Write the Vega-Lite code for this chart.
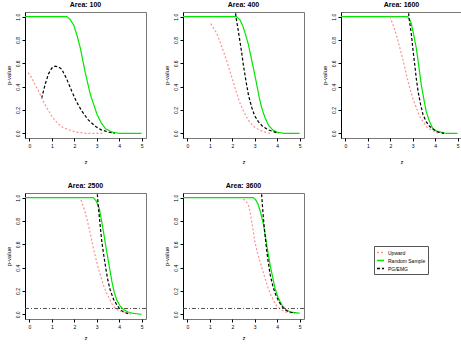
{
  "$schema": "https://vega.github.io/schema/vega-lite/v6.json",
  "background": "white",
  "padding": {"left": 4, "top": 0, "right": 0, "bottom": 0},
  "config": {
    "font": "Liberation Sans",
    "view": {"stroke": "#777777", "strokeWidth": 1},
    "title": {"fontSize": 7, "fontWeight": "bold", "offset": 4, "color": "black"},
    "axis": {"grid": false, "labelFontSize": 5, "titleFontSize": 6, "titleFontWeight": "normal", "tickSize": 3, "domainColor": "black", "tickColor": "black", "labelColor": "black", "titleColor": "black", "labelPadding": 2, "labelOverlap": false},
    "axisX": {"domain": false},
    "legend": {"labelFontSize": 5, "symbolSize": 50, "strokeColor": "#555555", "padding": 2, "rowPadding": 0, "symbolStrokeWidth": 1.5, "fillColor": "white", "labelOffset": 3},
    "concat": {"spacing": 37}
  },
  "data": {"values": [
    {"p":1,"s":"Random Sample","x":-0.2,"y":1},{"p":1,"s":"Random Sample","x":1.67,"y":1},{"p":1,"s":"Random Sample","x":1.8,"y":0.98},{"p":1,"s":"Random Sample","x":1.97,"y":0.93},{"p":1,"s":"Random Sample","x":2.12,"y":0.84},{"p":1,"s":"Random Sample","x":2.27,"y":0.73},{"p":1,"s":"Random Sample","x":2.49,"y":0.52},{"p":1,"s":"Random Sample","x":2.72,"y":0.33},{"p":1,"s":"Random Sample","x":3.02,"y":0.16},{"p":1,"s":"Random Sample","x":3.2,"y":0.09},{"p":1,"s":"Random Sample","x":3.39,"y":0.04},{"p":1,"s":"Random Sample","x":3.69,"y":0.01},{"p":1,"s":"Random Sample","x":4.0,"y":0},{"p":1,"s":"Random Sample","x":5.0,"y":0},
    {"p":1,"s":"PG/EMG","x":0.54,"y":0.30},{"p":1,"s":"PG/EMG","x":0.7,"y":0.42},{"p":1,"s":"PG/EMG","x":0.85,"y":0.51},{"p":1,"s":"PG/EMG","x":1.0,"y":0.56},{"p":1,"s":"PG/EMG","x":1.14,"y":0.575},{"p":1,"s":"PG/EMG","x":1.3,"y":0.57},{"p":1,"s":"PG/EMG","x":1.44,"y":0.55},{"p":1,"s":"PG/EMG","x":1.65,"y":0.47},{"p":1,"s":"PG/EMG","x":1.89,"y":0.36},{"p":1,"s":"PG/EMG","x":2.1,"y":0.27},{"p":1,"s":"PG/EMG","x":2.34,"y":0.19},{"p":1,"s":"PG/EMG","x":2.6,"y":0.12},{"p":1,"s":"PG/EMG","x":2.94,"y":0.06},{"p":1,"s":"PG/EMG","x":3.2,"y":0.03},{"p":1,"s":"PG/EMG","x":3.54,"y":0.01},{"p":1,"s":"PG/EMG","x":3.8,"y":0},
    {"p":1,"s":"Upward","x":-0.06,"y":0.52},{"p":1,"s":"Upward","x":0.09,"y":0.48},{"p":1,"s":"Upward","x":0.24,"y":0.42},{"p":1,"s":"Upward","x":0.39,"y":0.37},{"p":1,"s":"Upward","x":0.6,"y":0.28},{"p":1,"s":"Upward","x":0.8,"y":0.21},{"p":1,"s":"Upward","x":0.99,"y":0.15},{"p":1,"s":"Upward","x":1.14,"y":0.11},{"p":1,"s":"Upward","x":1.4,"y":0.06},{"p":1,"s":"Upward","x":1.74,"y":0.03},{"p":1,"s":"Upward","x":2.1,"y":0.01},{"p":1,"s":"Upward","x":2.5,"y":0},{"p":1,"s":"Upward","x":3.3,"y":0},

    {"p":2,"s":"Random Sample","x":-0.2,"y":1},{"p":2,"s":"Random Sample","x":2.19,"y":1},{"p":2,"s":"Random Sample","x":2.35,"y":0.97},{"p":2,"s":"Random Sample","x":2.49,"y":0.91},{"p":2,"s":"Random Sample","x":2.6,"y":0.84},{"p":2,"s":"Random Sample","x":2.72,"y":0.76},{"p":2,"s":"Random Sample","x":2.83,"y":0.66},{"p":2,"s":"Random Sample","x":2.94,"y":0.56},{"p":2,"s":"Random Sample","x":3.09,"y":0.42},{"p":2,"s":"Random Sample","x":3.2,"y":0.31},{"p":2,"s":"Random Sample","x":3.31,"y":0.22},{"p":2,"s":"Random Sample","x":3.45,"y":0.14},{"p":2,"s":"Random Sample","x":3.61,"y":0.07},{"p":2,"s":"Random Sample","x":3.8,"y":0.03},{"p":2,"s":"Random Sample","x":3.99,"y":0.01},{"p":2,"s":"Random Sample","x":4.3,"y":0},{"p":2,"s":"Random Sample","x":5.0,"y":0},
    {"p":2,"s":"PG/EMG","x":2.15,"y":1.03},{"p":2,"s":"PG/EMG","x":2.16,"y":1.0},{"p":2,"s":"PG/EMG","x":2.25,"y":0.9},{"p":2,"s":"PG/EMG","x":2.34,"y":0.79},{"p":2,"s":"PG/EMG","x":2.42,"y":0.69},{"p":2,"s":"PG/EMG","x":2.49,"y":0.59},{"p":2,"s":"PG/EMG","x":2.6,"y":0.46},{"p":2,"s":"PG/EMG","x":2.72,"y":0.33},{"p":2,"s":"PG/EMG","x":2.87,"y":0.22},{"p":2,"s":"PG/EMG","x":3.0,"y":0.15},{"p":2,"s":"PG/EMG","x":3.16,"y":0.10},{"p":2,"s":"PG/EMG","x":3.35,"y":0.06},{"p":2,"s":"PG/EMG","x":3.61,"y":0.03},{"p":2,"s":"PG/EMG","x":4.06,"y":0},
    {"p":2,"s":"Upward","x":1.04,"y":0.94},{"p":2,"s":"Upward","x":1.17,"y":0.90},{"p":2,"s":"Upward","x":1.30,"y":0.86},{"p":2,"s":"Upward","x":1.42,"y":0.80},{"p":2,"s":"Upward","x":1.52,"y":0.75},{"p":2,"s":"Upward","x":1.70,"y":0.65},{"p":2,"s":"Upward","x":1.90,"y":0.53},{"p":2,"s":"Upward","x":2.12,"y":0.39},{"p":2,"s":"Upward","x":2.34,"y":0.26},{"p":2,"s":"Upward","x":2.5,"y":0.19},{"p":2,"s":"Upward","x":2.64,"y":0.14},{"p":2,"s":"Upward","x":2.8,"y":0.09},{"p":2,"s":"Upward","x":3.01,"y":0.05},{"p":2,"s":"Upward","x":3.2,"y":0.03},{"p":2,"s":"Upward","x":3.46,"y":0.01},{"p":2,"s":"Upward","x":3.7,"y":0},

    {"p":3,"s":"Random Sample","x":-0.2,"y":1},{"p":3,"s":"Random Sample","x":2.76,"y":1},{"p":3,"s":"Random Sample","x":2.85,"y":0.98},{"p":3,"s":"Random Sample","x":2.94,"y":0.94},{"p":3,"s":"Random Sample","x":3.05,"y":0.84},{"p":3,"s":"Random Sample","x":3.16,"y":0.73},{"p":3,"s":"Random Sample","x":3.27,"y":0.58},{"p":3,"s":"Random Sample","x":3.38,"y":0.42},{"p":3,"s":"Random Sample","x":3.49,"y":0.30},{"p":3,"s":"Random Sample","x":3.6,"y":0.19},{"p":3,"s":"Random Sample","x":3.75,"y":0.10},{"p":3,"s":"Random Sample","x":3.9,"y":0.04},{"p":3,"s":"Random Sample","x":4.05,"y":0.02},{"p":3,"s":"Random Sample","x":4.26,"y":0.01},{"p":3,"s":"Random Sample","x":4.5,"y":0},{"p":3,"s":"Random Sample","x":5.0,"y":0},
    {"p":3,"s":"PG/EMG","x":2.82,"y":1.03},{"p":3,"s":"PG/EMG","x":2.83,"y":1.0},{"p":3,"s":"PG/EMG","x":2.88,"y":0.93},{"p":3,"s":"PG/EMG","x":2.94,"y":0.85},{"p":3,"s":"PG/EMG","x":3.01,"y":0.72},{"p":3,"s":"PG/EMG","x":3.09,"y":0.59},{"p":3,"s":"PG/EMG","x":3.16,"y":0.47},{"p":3,"s":"PG/EMG","x":3.24,"y":0.36},{"p":3,"s":"PG/EMG","x":3.35,"y":0.25},{"p":3,"s":"PG/EMG","x":3.46,"y":0.16},{"p":3,"s":"PG/EMG","x":3.6,"y":0.10},{"p":3,"s":"PG/EMG","x":3.75,"y":0.06},{"p":3,"s":"PG/EMG","x":3.95,"y":0.03},{"p":3,"s":"PG/EMG","x":4.12,"y":0.01},{"p":3,"s":"PG/EMG","x":4.4,"y":0},
    {"p":3,"s":"Upward","x":1.99,"y":1.0},{"p":3,"s":"Upward","x":2.1,"y":0.94},{"p":3,"s":"Upward","x":2.21,"y":0.88},{"p":3,"s":"Upward","x":2.32,"y":0.81},{"p":3,"s":"Upward","x":2.43,"y":0.73},{"p":3,"s":"Upward","x":2.54,"y":0.65},{"p":3,"s":"Upward","x":2.65,"y":0.56},{"p":3,"s":"Upward","x":2.76,"y":0.47},{"p":3,"s":"Upward","x":2.87,"y":0.39},{"p":3,"s":"Upward","x":3.0,"y":0.30},{"p":3,"s":"Upward","x":3.16,"y":0.22},{"p":3,"s":"Upward","x":3.3,"y":0.15},{"p":3,"s":"Upward","x":3.46,"y":0.10},{"p":3,"s":"Upward","x":3.65,"y":0.05},{"p":3,"s":"Upward","x":3.82,"y":0.03},{"p":3,"s":"Upward","x":4.12,"y":0},

    {"p":4,"s":"Random Sample","x":-0.2,"y":1},{"p":4,"s":"Random Sample","x":2.85,"y":1},{"p":4,"s":"Random Sample","x":2.98,"y":0.97},{"p":4,"s":"Random Sample","x":3.11,"y":0.91},{"p":4,"s":"Random Sample","x":3.2,"y":0.82},{"p":4,"s":"Random Sample","x":3.30,"y":0.71},{"p":4,"s":"Random Sample","x":3.4,"y":0.59},{"p":4,"s":"Random Sample","x":3.5,"y":0.48},{"p":4,"s":"Random Sample","x":3.59,"y":0.38},{"p":4,"s":"Random Sample","x":3.68,"y":0.28},{"p":4,"s":"Random Sample","x":3.78,"y":0.19},{"p":4,"s":"Random Sample","x":3.9,"y":0.12},{"p":4,"s":"Random Sample","x":4.05,"y":0.07},{"p":4,"s":"Random Sample","x":4.2,"y":0.04},{"p":4,"s":"Random Sample","x":4.4,"y":0.02},{"p":4,"s":"Random Sample","x":4.58,"y":0.01},{"p":4,"s":"Random Sample","x":5.0,"y":0},
    {"p":4,"s":"PG/EMG","x":3.03,"y":1.03},{"p":4,"s":"PG/EMG","x":3.04,"y":1.0},{"p":4,"s":"PG/EMG","x":3.07,"y":0.93},{"p":4,"s":"PG/EMG","x":3.11,"y":0.85},{"p":4,"s":"PG/EMG","x":3.17,"y":0.73},{"p":4,"s":"PG/EMG","x":3.23,"y":0.62},{"p":4,"s":"PG/EMG","x":3.32,"y":0.50},{"p":4,"s":"PG/EMG","x":3.41,"y":0.39},{"p":4,"s":"PG/EMG","x":3.5,"y":0.29},{"p":4,"s":"PG/EMG","x":3.6,"y":0.21},{"p":4,"s":"PG/EMG","x":3.75,"y":0.13},{"p":4,"s":"PG/EMG","x":3.9,"y":0.08},{"p":4,"s":"PG/EMG","x":4.05,"y":0.04},{"p":4,"s":"PG/EMG","x":4.2,"y":0.02},{"p":4,"s":"PG/EMG","x":4.5,"y":0},
    {"p":4,"s":"Upward","x":2.30,"y":0.98},{"p":4,"s":"Upward","x":2.39,"y":0.93},{"p":4,"s":"Upward","x":2.48,"y":0.88},{"p":4,"s":"Upward","x":2.57,"y":0.81},{"p":4,"s":"Upward","x":2.66,"y":0.74},{"p":4,"s":"Upward","x":2.75,"y":0.66},{"p":4,"s":"Upward","x":2.85,"y":0.57},{"p":4,"s":"Upward","x":2.96,"y":0.48},{"p":4,"s":"Upward","x":3.08,"y":0.39},{"p":4,"s":"Upward","x":3.19,"y":0.32},{"p":4,"s":"Upward","x":3.30,"y":0.25},{"p":4,"s":"Upward","x":3.42,"y":0.19},{"p":4,"s":"Upward","x":3.53,"y":0.15},{"p":4,"s":"Upward","x":3.68,"y":0.09},{"p":4,"s":"Upward","x":3.83,"y":0.05},{"p":4,"s":"Upward","x":4.0,"y":0.03},{"p":4,"s":"Upward","x":4.2,"y":0.02},{"p":4,"s":"Upward","x":4.5,"y":0.01},

    {"p":5,"s":"Random Sample","x":-0.2,"y":1},{"p":5,"s":"Random Sample","x":2.94,"y":1},{"p":5,"s":"Random Sample","x":3.05,"y":0.98},{"p":5,"s":"Random Sample","x":3.16,"y":0.94},{"p":5,"s":"Random Sample","x":3.28,"y":0.86},{"p":5,"s":"Random Sample","x":3.39,"y":0.77},{"p":5,"s":"Random Sample","x":3.47,"y":0.68},{"p":5,"s":"Random Sample","x":3.54,"y":0.59},{"p":5,"s":"Random Sample","x":3.62,"y":0.50},{"p":5,"s":"Random Sample","x":3.69,"y":0.42},{"p":5,"s":"Random Sample","x":3.8,"y":0.32},{"p":5,"s":"Random Sample","x":3.91,"y":0.22},{"p":5,"s":"Random Sample","x":4.05,"y":0.14},{"p":5,"s":"Random Sample","x":4.21,"y":0.08},{"p":5,"s":"Random Sample","x":4.4,"y":0.04},{"p":5,"s":"Random Sample","x":4.58,"y":0.02},{"p":5,"s":"Random Sample","x":5.0,"y":0.01},
    {"p":5,"s":"PG/EMG","x":3.31,"y":1.03},{"p":5,"s":"PG/EMG","x":3.32,"y":1.0},{"p":5,"s":"PG/EMG","x":3.35,"y":0.92},{"p":5,"s":"PG/EMG","x":3.39,"y":0.82},{"p":5,"s":"PG/EMG","x":3.46,"y":0.68},{"p":5,"s":"PG/EMG","x":3.54,"y":0.54},{"p":5,"s":"PG/EMG","x":3.61,"y":0.44},{"p":5,"s":"PG/EMG","x":3.69,"y":0.34},{"p":5,"s":"PG/EMG","x":3.8,"y":0.25},{"p":5,"s":"PG/EMG","x":3.91,"y":0.18},{"p":5,"s":"PG/EMG","x":4.05,"y":0.12},{"p":5,"s":"PG/EMG","x":4.21,"y":0.07},{"p":5,"s":"PG/EMG","x":4.35,"y":0.04},{"p":5,"s":"PG/EMG","x":4.51,"y":0.02},{"p":5,"s":"PG/EMG","x":4.8,"y":0.01},
    {"p":5,"s":"Upward","x":2.49,"y":0.99},{"p":5,"s":"Upward","x":2.6,"y":0.97},{"p":5,"s":"Upward","x":2.72,"y":0.94},{"p":5,"s":"Upward","x":2.8,"y":0.87},{"p":5,"s":"Upward","x":2.87,"y":0.79},{"p":5,"s":"Upward","x":2.94,"y":0.71},{"p":5,"s":"Upward","x":3.01,"y":0.62},{"p":5,"s":"Upward","x":3.12,"y":0.53},{"p":5,"s":"Upward","x":3.24,"y":0.45},{"p":5,"s":"Upward","x":3.35,"y":0.38},{"p":5,"s":"Upward","x":3.46,"y":0.31},{"p":5,"s":"Upward","x":3.57,"y":0.24},{"p":5,"s":"Upward","x":3.69,"y":0.18},{"p":5,"s":"Upward","x":3.84,"y":0.12},{"p":5,"s":"Upward","x":3.99,"y":0.07},{"p":5,"s":"Upward","x":4.18,"y":0.04},{"p":5,"s":"Upward","x":4.36,"y":0.02},{"p":5,"s":"Upward","x":4.6,"y":0.01}
  ]},
  "columns": 3,
  "spacing": {"column": 37, "row": 55},
  "bounds": "flush",
  "concat": [
    {"title": "Area: 100", "width": 121, "height": 126, "transform": [{"filter": "datum.p == 1"}],
     "mark": {"type": "line", "clip": true, "strokeWidth": 1.2},
     "encoding": {
       "x": {"field": "x", "type": "quantitative", "scale": {"domain": [-0.2, 5.2], "nice": false, "zero": false}, "axis": {"values": [0,1,2,3,4,5], "title": "z", "titlePadding": 10}},
       "y": {"field": "y", "type": "quantitative", "scale": {"domain": [-0.04, 1.04], "nice": false, "zero": false}, "axis": {"values": [0,0.2,0.4,0.6,0.8,1], "format": ".1f", "labelAngle": -90, "labelAlign": "center", "labelBaseline": "bottom", "title": "p-value", "titlePadding": 4}},
       "color": {"field": "s", "type": "nominal", "title": null, "scale": {"domain": ["Upward", "Random Sample", "PG/EMG"], "range": ["#ff8f8f", "#00e600", "#000000"]}, "legend": {"orient": "none", "legendX": 349, "legendY": 234}},
       "strokeDash": {"field": "s", "type": "nominal", "title": null, "scale": {"domain": ["Upward", "Random Sample", "PG/EMG"], "range": [[2, 2], [1, 0], [3, 2]]}},
       "order": {"field": "x", "type": "quantitative"}
     }},
    {"title": "Area: 400", "width": 121, "height": 126, "transform": [{"filter": "datum.p == 2"}],
     "mark": {"type": "line", "clip": true, "strokeWidth": 1.2},
     "encoding": {
       "x": {"field": "x", "type": "quantitative", "scale": {"domain": [-0.2, 5.2], "nice": false, "zero": false}, "axis": {"values": [0,1,2,3,4,5], "title": "z", "titlePadding": 10}},
       "y": {"field": "y", "type": "quantitative", "scale": {"domain": [-0.04, 1.04], "nice": false, "zero": false}, "axis": {"values": [0,0.2,0.4,0.6,0.8,1], "format": ".1f", "labelAngle": -90, "labelAlign": "center", "labelBaseline": "bottom", "title": "p-value", "titlePadding": 4}},
       "color": {"field": "s", "type": "nominal", "title": null, "scale": {"domain": ["Upward", "Random Sample", "PG/EMG"], "range": ["#ff8f8f", "#00e600", "#000000"]}},
       "strokeDash": {"field": "s", "type": "nominal", "title": null, "scale": {"domain": ["Upward", "Random Sample", "PG/EMG"], "range": [[2, 2], [1, 0], [3, 2]]}},
       "order": {"field": "x", "type": "quantitative"}
     }},
    {"title": "Area: 1600", "width": 121, "height": 126, "transform": [{"filter": "datum.p == 3"}],
     "mark": {"type": "line", "clip": true, "strokeWidth": 1.2},
     "encoding": {
       "x": {"field": "x", "type": "quantitative", "scale": {"domain": [-0.2, 5.2], "nice": false, "zero": false}, "axis": {"values": [0,1,2,3,4,5], "title": "z", "titlePadding": 10}},
       "y": {"field": "y", "type": "quantitative", "scale": {"domain": [-0.04, 1.04], "nice": false, "zero": false}, "axis": {"values": [0,0.2,0.4,0.6,0.8,1], "format": ".1f", "labelAngle": -90, "labelAlign": "center", "labelBaseline": "bottom", "title": "p-value", "titlePadding": 4}},
       "color": {"field": "s", "type": "nominal", "title": null, "scale": {"domain": ["Upward", "Random Sample", "PG/EMG"], "range": ["#ff8f8f", "#00e600", "#000000"]}},
       "strokeDash": {"field": "s", "type": "nominal", "title": null, "scale": {"domain": ["Upward", "Random Sample", "PG/EMG"], "range": [[2, 2], [1, 0], [3, 2]]}},
       "order": {"field": "x", "type": "quantitative"}
     }},
    {"title": "Area: 2500", "width": 121, "height": 126,
     "layer": [
       {"transform": [{"filter": "datum.p == 4"}],
        "mark": {"type": "line", "clip": true, "strokeWidth": 1.2},
        "encoding": {
          "x": {"field": "x", "type": "quantitative", "scale": {"domain": [-0.2, 5.2], "nice": false, "zero": false}, "axis": {"values": [0,1,2,3,4,5], "title": "z", "titlePadding": 5}},
          "y": {"field": "y", "type": "quantitative", "scale": {"domain": [-0.04, 1.04], "nice": false, "zero": false}, "axis": {"values": [0,0.2,0.4,0.6,0.8,1], "format": ".1f", "labelAngle": -90, "labelAlign": "center", "labelBaseline": "bottom", "title": "p-value", "titlePadding": 4}},
          "color": {"field": "s", "type": "nominal", "title": null, "scale": {"domain": ["Upward", "Random Sample", "PG/EMG"], "range": ["#ff8f8f", "#00e600", "#000000"]}},
          "strokeDash": {"field": "s", "type": "nominal", "title": null, "scale": {"domain": ["Upward", "Random Sample", "PG/EMG"], "range": [[2, 2], [1, 0], [3, 2]]}},
          "order": {"field": "x", "type": "quantitative"}
        }},
       {"mark": {"type": "rule", "color": "#555555", "strokeDash": [4, 2, 1, 2], "strokeWidth": 0.8}, "encoding": {"y": {"datum": 0.05, "type": "quantitative", "scale": {"domain": [-0.04, 1.04], "nice": false, "zero": false}, "axis": {"values": [0,0.2,0.4,0.6,0.8,1], "format": ".1f", "labelAngle": -90, "labelAlign": "center", "labelBaseline": "bottom", "title": "p-value", "titlePadding": 4}}}}
     ]},
    {"title": "Area: 3600", "width": 121, "height": 126,
     "layer": [
       {"transform": [{"filter": "datum.p == 5"}],
        "mark": {"type": "line", "clip": true, "strokeWidth": 1.2},
        "encoding": {
          "x": {"field": "x", "type": "quantitative", "scale": {"domain": [-0.2, 5.2], "nice": false, "zero": false}, "axis": {"values": [0,1,2,3,4,5], "title": "z", "titlePadding": 5}},
          "y": {"field": "y", "type": "quantitative", "scale": {"domain": [-0.04, 1.04], "nice": false, "zero": false}, "axis": {"values": [0,0.2,0.4,0.6,0.8,1], "format": ".1f", "labelAngle": -90, "labelAlign": "center", "labelBaseline": "bottom", "title": "p-value", "titlePadding": 4}},
          "color": {"field": "s", "type": "nominal", "title": null, "scale": {"domain": ["Upward", "Random Sample", "PG/EMG"], "range": ["#ff8f8f", "#00e600", "#000000"]}},
          "strokeDash": {"field": "s", "type": "nominal", "title": null, "scale": {"domain": ["Upward", "Random Sample", "PG/EMG"], "range": [[2, 2], [1, 0], [3, 2]]}},
          "order": {"field": "x", "type": "quantitative"}
        }},
       {"mark": {"type": "rule", "color": "#555555", "strokeDash": [4, 2, 1, 2], "strokeWidth": 0.8}, "encoding": {"y": {"datum": 0.05, "type": "quantitative", "scale": {"domain": [-0.04, 1.04], "nice": false, "zero": false}, "axis": {"values": [0,0.2,0.4,0.6,0.8,1], "format": ".1f", "labelAngle": -90, "labelAlign": "center", "labelBaseline": "bottom", "title": "p-value", "titlePadding": 4}}}}
     ]}
  ]
}
